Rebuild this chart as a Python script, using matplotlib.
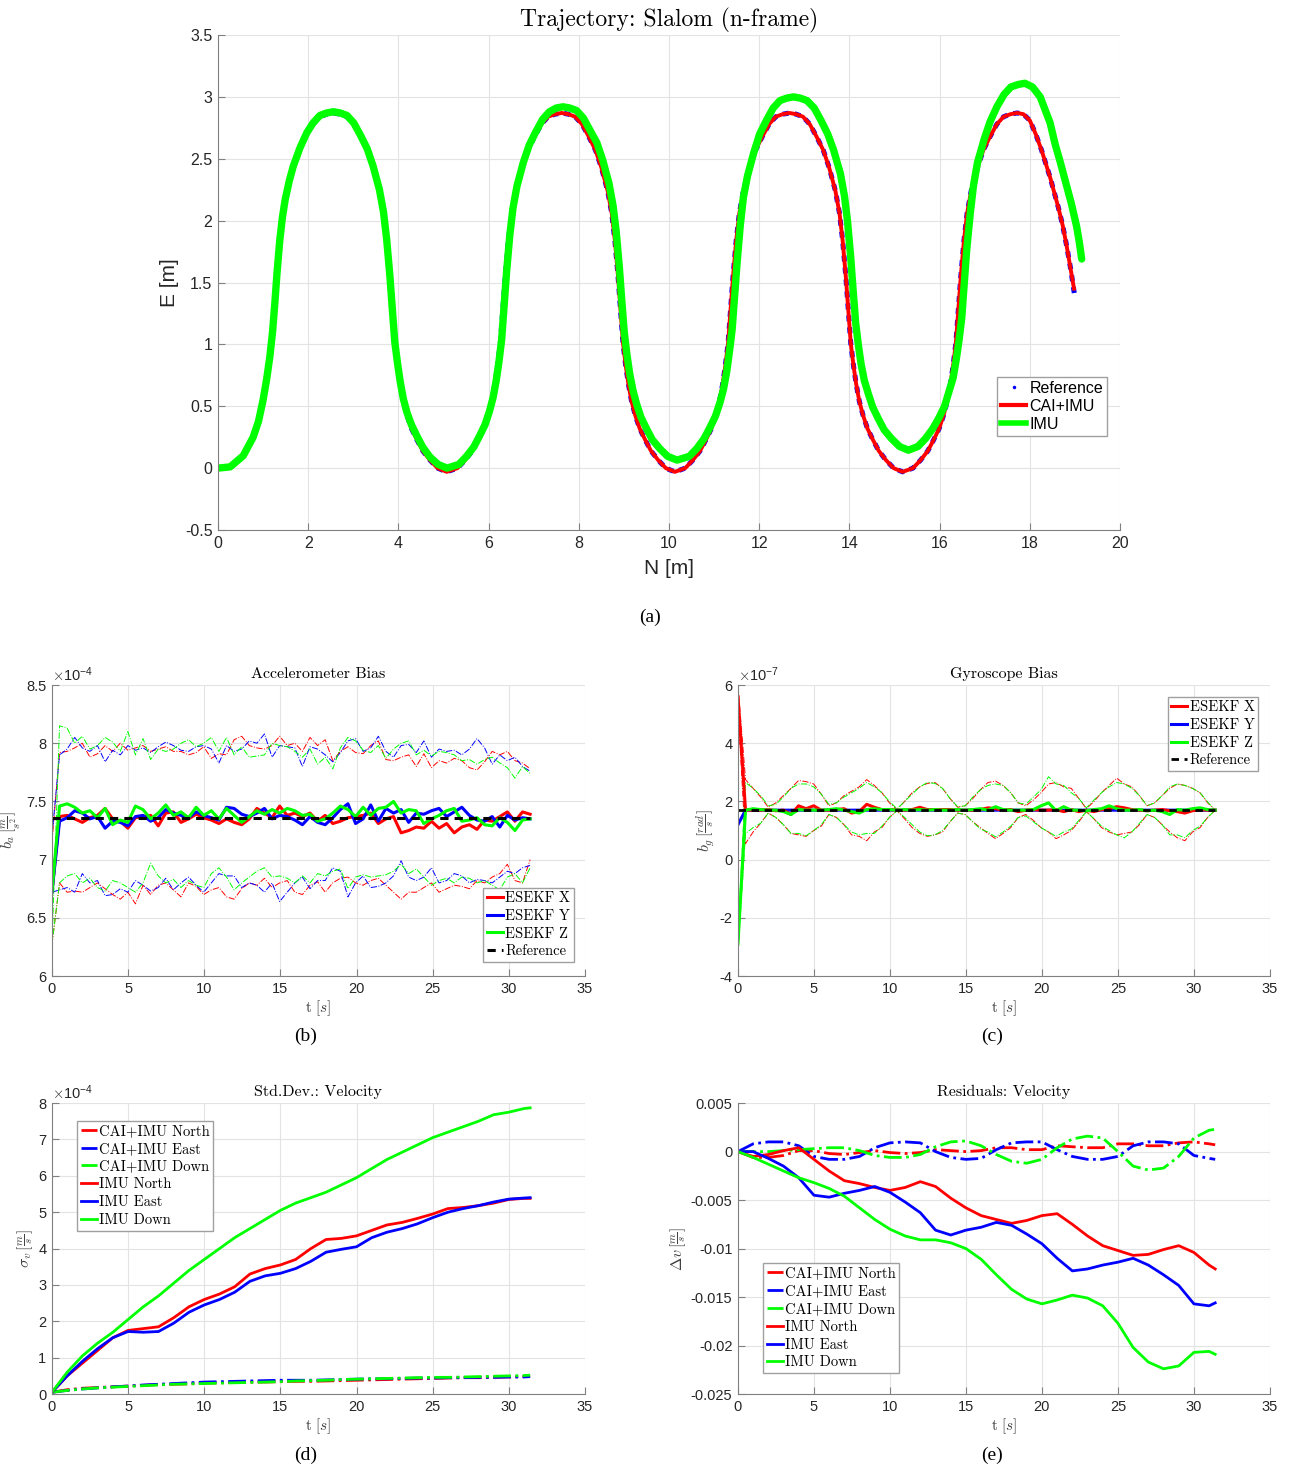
import matplotlib
matplotlib.use("Agg")
import matplotlib.pyplot as plt
import numpy as np
from matplotlib.lines import Line2D
from matplotlib.ticker import FuncFormatter

plt.rcParams['font.family'] = 'Liberation Sans'
plt.rcParams['mathtext.fontset'] = 'cm'

# ---------------- (a) trajectory ----------------
# the reference slalom repeats the same half-arc shape, so its E values are read once per side
ref_desc_E = [2.86, 2.84, 2.78, 2.68, 2.57, 2.43, 2.24, 2.06, 1.84, 1.55, 1.30, 1.01, 0.83, 0.68,
              0.54, 0.43, 0.32, 0.23, 0.14, 0.065, 0.0, -0.03]
ref_rise_E = [0.0, 0.065, 0.14, 0.23, 0.32, 0.43, 0.54, 0.68, 0.83, 1.01, 1.30, 1.55, 1.84, 2.06,
              2.24, 2.43, 2.57, 2.68, 2.78, 2.84, 2.86, 2.87]
ref_N = [0, 0.27, 0.56, 0.78, 0.90, 1.00, 1.08, 1.15, 1.21, 1.26, 1.31, 1.37, 1.43, 1.49, 1.58, 1.67, 1.82, 1.97, 2.11, 2.26, 2.41, 2.56,
         2.71, 2.86, 3.01, 3.16, 3.31, 3.44, 3.58, 3.67, 3.74, 3.81, 3.86, 3.92, 3.98, 4.04, 4.11, 4.19, 4.29, 4.41, 4.54, 4.70, 4.87, 5.07,
         5.31, 5.48, 5.64, 5.77, 5.89, 5.99, 6.07, 6.14, 6.20, 6.26, 6.32, 6.37, 6.44, 6.51, 6.60, 6.74, 6.87, 7.02, 7.17, 7.32, 7.47, 7.62,
         7.77, 7.92, 8.07, 8.22, 8.37, 8.50, 8.64, 8.73, 8.80, 8.87, 8.92, 8.98, 9.04, 9.10, 9.17, 9.25, 9.35, 9.47, 9.60, 9.76, 9.93, 10.13,
         10.36, 10.53, 10.69, 10.82, 10.94, 11.04, 11.12, 11.19, 11.25, 11.31, 11.37, 11.42, 11.49, 11.56, 11.65, 11.79, 11.92, 12.07, 12.22, 12.37, 12.52, 12.67,
         12.82, 12.97, 13.12, 13.27, 13.42, 13.55, 13.69, 13.78, 13.85, 13.92, 13.97, 14.03, 14.09, 14.15, 14.22, 14.30, 14.40, 14.52, 14.65, 14.81, 14.98, 15.18,
         15.41, 15.58, 15.74, 15.87, 15.99, 16.09, 16.17, 16.24, 16.30, 16.36, 16.42, 16.47, 16.54, 16.61, 16.70, 16.84, 16.97, 17.12, 17.27, 17.42, 17.57, 17.72,
         17.86, 18.00, 18.13, 18.26, 18.45, 18.63, 18.73, 18.82, 18.91, 19.00]
ref_E = ([0, 0.01, 0.10, 0.25, 0.38, 0.55, 0.72, 0.90, 1.10, 1.33, 1.58, 1.84, 2.03, 2.17, 2.32, 2.43, 2.58, 2.70, 2.78, 2.84, 2.86, 2.87]
         + ref_desc_E + ref_rise_E + ref_desc_E + ref_rise_E + ref_desc_E + ref_rise_E
         + [2.86, 2.81, 2.70, 2.57, 2.35, 2.11, 1.96, 1.79, 1.60, 1.38])
cai_N = ref_N[:-1] + [18.98]
cai_E = ref_E[:-1] + [1.45]
imu_N = [0, 0.27, 0.56, 0.78, 0.90, 1.00, 1.08, 1.15, 1.21, 1.26, 1.31, 1.37, 1.43, 1.49, 1.58, 1.67, 1.82, 1.97, 2.11, 2.26, 2.41, 2.56,
         2.71, 2.86, 3.01, 3.16, 3.31, 3.44, 3.58, 3.67, 3.74, 3.81, 3.86, 3.92, 3.98, 4.04, 4.11, 4.19, 4.29, 4.41, 4.54, 4.70, 4.88, 5.08,
         5.34, 5.51, 5.67, 5.80, 5.92, 6.02, 6.10, 6.17, 6.23, 6.29, 6.35, 6.40, 6.47, 6.54, 6.63, 6.77, 6.90, 7.05, 7.20, 7.35, 7.50, 7.65,
         7.80, 7.95, 8.10, 8.25, 8.40, 8.53, 8.67, 8.76, 8.83, 8.90, 8.95, 9.01, 9.07, 9.13, 9.20, 9.28, 9.38, 9.50, 9.63, 9.79, 9.97, 10.18,
         10.45, 10.62, 10.78, 10.91, 11.03, 11.13, 11.21, 11.28, 11.34, 11.40, 11.46, 11.51, 11.58, 11.65, 11.74, 11.88, 12.01, 12.16, 12.31, 12.46, 12.61, 12.76,
         12.91, 13.06, 13.22, 13.37, 13.52, 13.65, 13.80, 13.89, 13.96, 14.03, 14.08, 14.14, 14.20, 14.26, 14.33, 14.42, 14.52, 14.64, 14.77, 14.93, 15.11, 15.31,
         15.52, 15.69, 15.85, 15.99, 16.11, 16.21, 16.30, 16.37, 16.43, 16.49, 16.55, 16.60, 16.68, 16.75, 16.84, 16.99, 17.12, 17.27, 17.43, 17.58, 17.74, 17.89,
         18.06, 18.23, 18.45, 18.56, 18.67, 18.78, 18.92, 19.04, 19.10, 19.15]
imu_E = [0, 0.01, 0.10, 0.25, 0.38, 0.55, 0.72, 0.90, 1.10, 1.33, 1.58, 1.84, 2.03, 2.17, 2.32, 2.44, 2.59, 2.71, 2.79, 2.85, 2.87, 2.88,
         2.87, 2.85, 2.79, 2.69, 2.58, 2.44, 2.25, 2.07, 1.85, 1.56, 1.31, 1.02, 0.85, 0.70, 0.56, 0.45, 0.35, 0.26, 0.17, 0.09, 0.03, 0.0,
         0.03, 0.095, 0.17, 0.26, 0.35, 0.46, 0.57, 0.71, 0.86, 1.04, 1.34, 1.59, 1.88, 2.10, 2.28, 2.47, 2.61, 2.72, 2.82, 2.88, 2.91, 2.92,
         2.91, 2.89, 2.83, 2.73, 2.63, 2.49, 2.30, 2.12, 1.91, 1.62, 1.37, 1.09, 0.91, 0.76, 0.63, 0.52, 0.41, 0.32, 0.23, 0.16, 0.095, 0.065,
         0.095, 0.16, 0.24, 0.33, 0.42, 0.53, 0.64, 0.78, 0.94, 1.12, 1.42, 1.66, 1.96, 2.19, 2.36, 2.55, 2.70, 2.81, 2.91, 2.97, 2.99, 3.00,
         2.99, 2.97, 2.91, 2.81, 2.70, 2.57, 2.38, 2.20, 1.99, 1.70, 1.45, 1.17, 0.99, 0.84, 0.71, 0.60, 0.49, 0.40, 0.31, 0.24, 0.175, 0.145,
         0.175, 0.24, 0.32, 0.41, 0.50, 0.62, 0.73, 0.88, 1.03, 1.21, 1.51, 1.76, 2.06, 2.28, 2.47, 2.66, 2.80, 2.92, 3.02, 3.08, 3.10, 3.11,
         3.08, 3.00, 2.79, 2.62, 2.48, 2.33, 2.14, 1.95, 1.82, 1.69]

# ---------------- (b) accelerometer bias [1e-4 m/s^2], one sample every 0.5 s ----------------
acc_x = [6.72, 7.37, 7.38, 7.35, 7.32, 7.36, 7.38, 7.44, 7.35, 7.33, 7.27, 7.36, 7.37, 7.38, 7.29, 7.40,
         7.41, 7.32, 7.35, 7.39, 7.36, 7.34, 7.31, 7.35, 7.32, 7.30, 7.35, 7.44, 7.40, 7.36, 7.46, 7.38,
         7.40, 7.37, 7.40, 7.33, 7.38, 7.31, 7.33, 7.36, 7.37, 7.38, 7.40, 7.31, 7.35, 7.37, 7.23, 7.25,
         7.28, 7.27, 7.33, 7.27, 7.31, 7.23, 7.28, 7.30, 7.26, 7.34, 7.33, 7.37, 7.41, 7.33, 7.41, 7.39]
acc_y = [6.72, 7.33, 7.36, 7.42, 7.40, 7.35, 7.37, 7.27, 7.33, 7.32, 7.29, 7.37, 7.38, 7.33, 7.36, 7.43,
         7.40, 7.38, 7.36, 7.41, 7.38, 7.36, 7.34, 7.45, 7.44, 7.39, 7.37, 7.40, 7.44, 7.35, 7.38, 7.37,
         7.34, 7.30, 7.37, 7.32, 7.30, 7.36, 7.43, 7.48, 7.31, 7.35, 7.47, 7.33, 7.44, 7.40, 7.43, 7.32,
         7.40, 7.39, 7.42, 7.44, 7.37, 7.41, 7.45, 7.38, 7.34, 7.33, 7.37, 7.28, 7.38, 7.34, 7.36, 7.35]
acc_z = [6.72, 7.46, 7.48, 7.45, 7.40, 7.42, 7.36, 7.44, 7.30, 7.34, 7.32, 7.46, 7.43, 7.35, 7.40, 7.47,
         7.38, 7.41, 7.36, 7.45, 7.38, 7.42, 7.35, 7.44, 7.38, 7.32, 7.37, 7.42, 7.39, 7.43, 7.40, 7.44,
         7.42, 7.38, 7.39, 7.33, 7.35, 7.40, 7.46, 7.43, 7.37, 7.45, 7.38, 7.44, 7.45, 7.50, 7.40, 7.43,
         7.42, 7.31, 7.35, 7.38, 7.42, 7.44, 7.33, 7.34, 7.36, 7.30, 7.29, 7.36, 7.32, 7.25, 7.34, 7.35]
acc_x_hi = [7.15, 7.92, 7.93, 7.96, 8.00, 7.88, 7.91, 7.98, 7.93, 8.00, 7.94, 7.96, 7.98, 7.93, 7.95, 7.97,
            7.93, 7.93, 7.90, 7.92, 7.97, 7.87, 7.91, 7.90, 8.03, 8.06, 7.98, 7.96, 7.95, 7.98, 8.06, 7.98,
            8.00, 7.93, 8.05, 7.98, 8.03, 7.85, 7.93, 7.97, 7.92, 7.91, 7.98, 8.02, 7.86, 7.85, 7.88, 7.90,
            7.80, 7.91, 7.79, 7.85, 7.83, 7.87, 7.85, 7.79, 7.77, 7.84, 7.93, 7.90, 7.93, 7.85, 7.83, 7.78]
acc_y_hi = [7.20, 7.90, 7.95, 8.05, 7.96, 7.93, 7.98, 7.84, 7.94, 7.90, 7.98, 7.94, 7.96, 7.92, 7.97, 8.01,
            7.98, 7.94, 7.93, 7.97, 7.98, 7.95, 7.83, 7.98, 7.93, 7.95, 8.02, 8.00, 8.08, 7.88, 7.98, 7.97,
            7.96, 7.80, 7.97, 7.95, 7.90, 7.84, 7.92, 8.02, 8.04, 7.93, 7.96, 8.06, 7.93, 7.88, 7.98, 7.99,
            7.92, 8.02, 7.88, 7.95, 7.93, 7.94, 7.90, 7.95, 8.04, 7.96, 7.82, 7.90, 7.85, 7.88, 7.80, 7.76]
acc_z_hi = [6.27, 8.15, 8.13, 8.00, 8.06, 7.95, 7.98, 8.05, 8.01, 7.93, 8.10, 7.90, 8.04, 7.86, 7.95, 7.93,
            7.95, 8.00, 8.03, 7.97, 8.00, 8.05, 7.93, 8.05, 7.90, 7.97, 7.88, 7.89, 7.90, 8.00, 7.98, 7.97,
            7.93, 7.88, 7.95, 7.82, 7.88, 7.78, 7.96, 8.05, 8.02, 7.94, 7.92, 7.98, 7.87, 7.95, 8.00, 8.02,
            7.90, 7.94, 7.89, 7.93, 7.92, 7.90, 7.85, 7.86, 7.82, 7.86, 7.88, 7.83, 7.79, 7.70, 7.80, 7.74]
acc_x_lo = [6.27, 6.80, 6.72, 6.73, 6.72, 6.76, 6.80, 6.75, 6.70, 6.66, 6.72, 6.62, 6.78, 6.70, 6.78, 6.80,
            6.74, 6.68, 6.80, 6.77, 6.70, 6.74, 6.76, 6.68, 6.66, 6.75, 6.80, 6.78, 6.84, 6.76, 6.80, 6.82,
            6.72, 6.70, 6.78, 6.81, 6.72, 6.80, 6.84, 6.85, 6.80, 6.78, 6.82, 6.84, 6.78, 6.72, 6.66, 6.72,
            6.72, 6.76, 6.80, 6.72, 6.75, 6.78, 6.77, 6.75, 6.82, 6.80, 6.85, 6.88, 6.96, 6.82, 6.80, 7.00]
acc_y_lo = [6.72, 6.74, 6.76, 6.72, 6.88, 6.80, 6.82, 6.69, 6.70, 6.75, 6.72, 6.82, 6.78, 6.73, 6.76, 6.84,
            6.74, 6.80, 6.85, 6.78, 6.72, 6.80, 6.88, 6.86, 6.86, 6.76, 6.80, 6.78, 6.72, 6.80, 6.64, 6.72,
            6.80, 6.85, 6.75, 6.82, 6.82, 6.93, 6.90, 6.68, 6.80, 6.86, 6.76, 6.77, 6.80, 6.86, 6.99, 6.85,
            6.82, 6.85, 6.93, 6.80, 6.82, 6.88, 6.86, 6.80, 6.83, 6.82, 6.80, 6.85, 6.90, 6.88, 6.93, 6.95]
acc_z_lo = [6.27, 6.80, 6.86, 6.88, 6.80, 6.84, 6.76, 6.73, 6.82, 6.80, 6.76, 6.72, 6.80, 6.97, 6.86, 6.80,
            6.83, 6.76, 6.82, 6.78, 6.76, 6.88, 6.93, 6.85, 6.74, 6.80, 6.85, 6.90, 6.93, 6.85, 6.86, 6.84,
            6.80, 6.86, 6.80, 6.88, 6.86, 6.90, 6.92, 6.75, 6.85, 6.87, 6.85, 6.86, 6.87, 6.90, 6.96, 6.88,
            6.92, 6.85, 6.78, 6.82, 6.84, 6.80, 6.85, 6.84, 6.80, 6.82, 6.78, 6.74, 6.85, 6.88, 6.80, 6.93]
acc_ref = [7.36, 7.36]

# ---------------- (c) gyroscope bias [1e-7 rad/s], one sample every 0.5 s ----------------
gyr_x = [5.6, 1.70, 1.70, 1.70, 1.72, 1.68, 1.70, 1.55, 1.85, 1.75, 1.85, 1.70, 1.70, 1.72, 1.75, 1.60,
         1.65, 1.90, 1.80, 1.72, 1.72, 1.70, 1.70, 1.72, 1.80, 1.72, 1.72, 1.72, 1.72, 1.70, 1.70, 1.70,
         1.72, 1.78, 1.75, 1.70, 1.72, 1.65, 1.70, 1.72, 1.70, 1.70, 1.72, 1.65, 1.72, 1.65, 1.70, 1.65,
         1.72, 1.75, 1.82, 1.78, 1.72, 1.70, 1.68, 1.70, 1.72, 1.68, 1.65, 1.60, 1.68, 1.72, 1.70, 1.70]
gyr_y = [1.2, 1.70, 1.70, 1.70, 1.70, 1.70, 1.70, 1.70, 1.70, 1.70, 1.70, 1.70, 1.70, 1.70, 1.70, 1.70,
         1.70, 1.70, 1.70, 1.70, 1.70, 1.70, 1.70, 1.70, 1.70, 1.70, 1.70, 1.70, 1.70, 1.70, 1.70, 1.70,
         1.70, 1.70, 1.70, 1.70, 1.70, 1.70, 1.70, 1.70, 1.70, 1.70, 1.70, 1.70, 1.70, 1.70, 1.70, 1.70,
         1.70, 1.70, 1.70, 1.70, 1.70, 1.70, 1.70, 1.70, 1.70, 1.70, 1.70, 1.70, 1.70, 1.70, 1.70, 1.70]
gyr_z = [-2.9, 1.70, 1.75, 1.72, 1.70, 1.70, 1.65, 1.55, 1.72, 1.70, 1.70, 1.70, 1.72, 1.75, 1.70, 1.65,
         1.60, 1.72, 1.75, 1.72, 1.72, 1.70, 1.72, 1.70, 1.72, 1.70, 1.72, 1.70, 1.70, 1.72, 1.70, 1.72,
         1.75, 1.70, 1.82, 1.72, 1.70, 1.70, 1.70, 1.72, 1.85, 1.95, 1.68, 1.82, 1.70, 1.70, 1.68, 1.72,
         1.75, 1.85, 1.75, 1.70, 1.70, 1.72, 1.68, 1.70, 1.65, 1.55, 1.72, 1.70, 1.75, 1.78, 1.72, 1.70]
gyr_x_hi = [6.0, 2.75, 2.45, 2.15, 1.80, 1.95, 2.20, 2.45, 2.72, 2.68, 2.60, 2.25, 1.85, 1.95, 2.20, 2.35,
            2.50, 2.75, 2.55, 2.30, 1.95, 1.72, 2.00, 2.30, 2.50, 2.62, 2.65, 2.45, 2.10, 1.80, 1.85, 2.10,
            2.40, 2.65, 2.70, 2.55, 2.30, 1.95, 1.85, 2.05, 2.30, 2.60, 2.65, 2.50, 2.45, 2.10, 1.75, 2.00,
            2.30, 2.55, 2.80, 2.60, 2.50, 2.20, 1.85, 1.95, 2.20, 2.45, 2.60, 2.55, 2.45, 2.30, 1.95, 1.70]
gyr_x_lo = [5.2, 0.55, 0.95, 1.25, 1.60, 1.45, 1.20, 0.90, 0.85, 0.80, 1.00, 1.15, 1.55, 1.45, 1.20, 0.85,
            0.80, 0.65, 0.95, 1.10, 1.45, 1.68, 1.40, 1.10, 0.90, 0.80, 0.85, 0.95, 1.30, 1.60, 1.55, 1.30,
            1.10, 0.90, 0.72, 0.90, 1.10, 1.45, 1.55, 1.35, 1.10, 0.95, 0.72, 0.85, 1.00, 1.30, 1.65, 1.40,
            1.10, 0.95, 0.85, 0.90, 0.95, 1.20, 1.55, 1.45, 1.20, 0.95, 0.75, 0.65, 0.95, 1.10, 1.45, 1.70]
gyr_z_hi = [-2.6, 2.65, 2.45, 2.20, 1.85, 1.90, 2.15, 2.45, 2.60, 2.60, 2.50, 2.25, 1.90, 1.95, 2.15, 2.30,
            2.45, 2.65, 2.50, 2.30, 2.00, 1.75, 2.00, 2.25, 2.50, 2.65, 2.62, 2.45, 2.10, 1.82, 1.85, 2.15,
            2.40, 2.55, 2.60, 2.55, 2.30, 1.95, 1.90, 2.15, 2.40, 2.85, 2.60, 2.55, 2.30, 2.10, 1.78, 2.05,
            2.30, 2.50, 2.65, 2.60, 2.45, 2.20, 1.85, 1.95, 2.20, 2.50, 2.60, 2.55, 2.45, 2.30, 1.98, 1.70]
gyr_z_lo = [-3.2, 0.90, 1.10, 1.25, 1.60, 1.45, 1.20, 0.90, 0.90, 0.82, 1.00, 1.20, 1.55, 1.45, 1.20, 0.95,
            0.85, 0.90, 0.90, 1.15, 1.45, 1.68, 1.45, 1.20, 0.95, 0.82, 0.85, 1.00, 1.30, 1.60, 1.55, 1.30,
            1.05, 0.95, 0.78, 0.95, 1.15, 1.45, 1.50, 1.30, 1.10, 0.95, 0.80, 0.95, 1.05, 1.35, 1.65, 1.40,
            1.15, 1.00, 0.85, 0.75, 0.95, 1.25, 1.55, 1.45, 1.20, 0.85, 0.85, 0.75, 1.00, 1.15, 1.45, 1.70]
gyr_ref = [1.70, 1.70]

# ---------------- (d) std dev velocity [1e-4 m/s], t = 0..31 s and 31.4 s ----------------
t_v = [0, 1, 2, 3, 4, 5, 6, 7, 8, 9, 10, 11, 12, 13, 14, 15, 16, 17, 18, 19, 20,
       21, 22, 23, 24, 25, 26, 27, 28, 29, 30, 31, 31.4]
sd_cai_n = [0.05, 0.12, 0.16, 0.18, 0.20, 0.22, 0.24, 0.26, 0.27, 0.28, 0.30, 0.31, 0.32, 0.33, 0.33, 0.34,
            0.35, 0.35, 0.36, 0.37, 0.38, 0.39, 0.40, 0.41, 0.42, 0.43, 0.44, 0.45, 0.45, 0.46, 0.47, 0.48, 0.49]
sd_cai_e = [0.05, 0.10, 0.14, 0.17, 0.20, 0.22, 0.25, 0.27, 0.29, 0.31, 0.33, 0.34, 0.35, 0.36, 0.37, 0.38,
            0.38, 0.38, 0.39, 0.40, 0.41, 0.42, 0.42, 0.43, 0.44, 0.44, 0.45, 0.45, 0.46, 0.46, 0.47, 0.47, 0.48]
sd_cai_d = [0.05, 0.10, 0.14, 0.17, 0.19, 0.21, 0.23, 0.25, 0.27, 0.28, 0.29, 0.30, 0.31, 0.32, 0.33, 0.34,
            0.36, 0.37, 0.38, 0.40, 0.41, 0.42, 0.43, 0.44, 0.45, 0.46, 0.46, 0.47, 0.48, 0.49, 0.50, 0.51, 0.52]
sd_imu_n = [0.05, 0.50, 0.85, 1.20, 1.55, 1.75, 1.80, 1.85, 2.10, 2.40, 2.60, 2.75, 2.95, 3.30, 3.45, 3.55,
            3.70, 4.00, 4.25, 4.28, 4.35, 4.50, 4.65, 4.72, 4.83, 4.95, 5.10, 5.13, 5.18, 5.25, 5.35, 5.38, 5.38]
sd_imu_e = [0.05, 0.50, 0.90, 1.25, 1.55, 1.72, 1.70, 1.72, 1.95, 2.25, 2.45, 2.60, 2.80, 3.10, 3.25, 3.32,
            3.45, 3.65, 3.90, 3.98, 4.05, 4.30, 4.45, 4.55, 4.68, 4.85, 5.00, 5.10, 5.18, 5.28, 5.36, 5.39, 5.40]
sd_imu_d = [0.05, 0.60, 1.05, 1.40, 1.70, 2.05, 2.40, 2.70, 3.05, 3.40, 3.70, 4.00, 4.30, 4.55, 4.80, 5.05,
            5.25, 5.40, 5.55, 5.75, 5.95, 6.20, 6.45, 6.65, 6.85, 7.05, 7.20, 7.35, 7.50, 7.68, 7.75, 7.85, 7.87]

# ---------------- (e) velocity residuals [m/s] ----------------
res_cai_n = [0, -0.0006, -0.0006, -0.0004, 0.0001, 0.0001, -0.0002, -0.0003, -0.0001, 0.0001, -0.0001,
             -0.0002, -0.0001, 0.0002, 0.0001, 0.0, 0.0001, 0.0004, 0.0004, 0.0002, 0.0002, 0.0006,
             0.0005, 0.0004, 0.0004, 0.0008, 0.0008, 0.0006, 0.0006, 0.0009, 0.0010, 0.0008, 0.0007]
res_cai_e = [0, 0.0008, 0.0010, 0.0010, 0.0006, -0.0005, -0.0008, -0.0008, -0.0005, 0.0004, 0.0009,
             0.0010, 0.0009, 0.0, -0.0006, -0.0008, -0.0007, 0.0002, 0.0009, 0.0010, 0.0010, 0.0002,
             -0.0005, -0.0008, -0.0008, -0.0005, 0.0006, 0.0010, 0.0010, 0.0008, -0.0004, -0.0007, -0.0008]
res_cai_d = [0, 0.0, 0.0, 0.0001, 0.0002, 0.0003, 0.0004, 0.0004, 0.0001, -0.0004, -0.0006,
             -0.0006, -0.0003, 0.0005, 0.0010, 0.0011, 0.0006, -0.0003, -0.0010, -0.0012, -0.0008, 0.0004,
             0.0013, 0.0016, 0.0014, 0.0, -0.0015, -0.0019, -0.0017, -0.0005, 0.0014, 0.0022, 0.0023]
res_imu_n = [0, -0.0005, -0.0003, 0.0001, 0.0004, -0.0008, -0.0020, -0.0030, -0.0033, -0.0037, -0.0040,
             -0.0037, -0.0031, -0.0036, -0.0048, -0.0058, -0.0066, -0.0070, -0.0074, -0.0071, -0.0066, -0.0064,
             -0.0075, -0.0087, -0.0097, -0.0102, -0.0107, -0.0106, -0.0101, -0.0097, -0.0104, -0.0117, -0.0121]
res_imu_e = [0, 0.0, -0.0007, -0.0015, -0.0027, -0.0045, -0.0047, -0.0043, -0.0040, -0.0036, -0.0042,
             -0.0052, -0.0063, -0.0081, -0.0086, -0.0081, -0.0078, -0.0073, -0.0076, -0.0085, -0.0095, -0.0110,
             -0.0123, -0.0121, -0.0117, -0.0114, -0.0110, -0.0117, -0.0127, -0.0138, -0.0157, -0.0159, -0.0156]
res_imu_d = [0, -0.0006, -0.0013, -0.0020, -0.0027, -0.0032, -0.0038, -0.0046, -0.0058, -0.0070, -0.0080,
             -0.0087, -0.0091, -0.0091, -0.0094, -0.0100, -0.0111, -0.0127, -0.0142, -0.0152, -0.0157, -0.0153,
             -0.0148, -0.0151, -0.0159, -0.0177, -0.0202, -0.0217, -0.0224, -0.0221, -0.0207, -0.0206, -0.0209]

RED, BLUE, GREEN = '#ff0000', '#0000ff', '#00ff00'
SPINE = '#808080'
GRID = '#e3e3e3'
fmt_g = FuncFormatter(lambda v, p: '%g' % round(v, 6))


def style(ax, xlim, xticks, ylim, yticks, size):
    ax.set_xlim(*xlim)
    ax.set_ylim(*ylim)
    ax.set_xticks(xticks)
    ax.set_yticks(yticks)
    ax.xaxis.set_major_formatter(fmt_g)
    ax.yaxis.set_major_formatter(fmt_g)
    for s in ['top', 'right']:
        ax.spines[s].set_visible(False)
    for s in ['left', 'bottom']:
        ax.spines[s].set_color(SPINE)
        ax.spines[s].set_linewidth(0.8)
    ax.tick_params(direction='in', length=5, width=0.8, color=SPINE,
                   labelsize=size, labelcolor='#262626', pad=4)
    ax.grid(True, color=GRID, lw=0.8)
    ax.set_axisbelow(True)


fig = plt.figure(figsize=(12.89, 14.71), dpi=100)

# ---- (a)
ax = fig.add_axes([0.1691, 0.6397, 0.6998, 0.3365])
ax.plot(ref_N, ref_E, color=BLUE, lw=3.6, ls=(0, (1.2, 1.2)), solid_joinstyle='round')
ax.plot(cai_N, cai_E, color=RED, lw=2.8, solid_joinstyle='round')
ax.plot(imu_N, imu_E, color=GREEN, lw=5.3, solid_capstyle='round', solid_joinstyle='round')
style(ax, (0, 20), np.arange(0, 21, 2), (-0.5, 3.5), np.arange(-0.5, 3.51, 0.5), 11.5)
ax.set_xlabel('N [m]', fontsize=15, color='#262626', labelpad=6)
ax.set_ylabel('E [m]', fontsize=15, color='#262626', labelpad=4)
ax.set_title('Trajectory: Slalom (n-frame)', family='cmr10', fontsize=17, pad=6)
handles = [Line2D([], [], color=BLUE, marker='.', ls='none', markersize=3),
           Line2D([], [], color=RED, lw=3),
           Line2D([], [], color=GREEN, lw=4)]
ax.legend(handles, ['Reference', 'CAI+IMU', 'IMU'], loc='upper right',
          bbox_to_anchor=(0.986, 0.31), fontsize=11.5, fancybox=False, framealpha=1,
          edgecolor='#a0a0a0', handlelength=1.6, handletextpad=0.2, labelspacing=0.2,
          borderpad=0.25, borderaxespad=0)
fig.text(0.504, 1 - 617 / 1471, '(a)', family='Liberation Serif', fontsize=14,
         ha='center', va='center')

leg_kw = dict(prop={'family': 'cmr10', 'size': 10.5}, fancybox=False, framealpha=1,
              edgecolor='#a0a0a0', handlelength=1.1, handletextpad=0.15, labelspacing=0.28,
              borderpad=0.25, borderaxespad=0)
xlab = r'$\mathrm{t}\ [s]$'

caption_label = {'Accelerometer Bias': '(b)', 'Gyroscope Bias': '(c)',
                 'Std.Dev.: Velocity': '(d)', 'Residuals: Velocity': '(e)'}


def lower(ax, title, ylabel, caption_x, caption_y):
    ax.set_title(title, family='cmr10', fontsize=11.5, pad=5)
    ax.set_xlabel(xlab, fontsize=11, color='#404040', labelpad=2)
    ax.set_ylabel(ylabel, fontsize=11.5, color='#404040', labelpad=2)
    fig.text(caption_x, caption_y, caption_label[title], family='Liberation Serif', fontsize=14,
             ha='center', va='center')


def offset(ax, exp):
    ax.text(0, 1.005, r'$\times\mathdefault{10^{%d}}$' % exp, transform=ax.transAxes,
            fontsize=10.5, color='#262626', va='bottom', ha='left')


# ---- (b)
ax = fig.add_axes([0.0403, 0.3365, 0.4135, 0.1978])
tb = np.linspace(0, 31.4, len(acc_x))
for hi, lo, c in [(acc_x_hi, acc_x_lo, RED), (acc_y_hi, acc_y_lo, BLUE), (acc_z_hi, acc_z_lo, GREEN)]:
    ax.plot(tb, hi, color=c, lw=0.7, ls='-.')
    ax.plot(tb, lo, color=c, lw=0.7, ls='-.')
lx, = ax.plot(tb, acc_x, color=RED, lw=2.2)
ly, = ax.plot(tb, acc_y, color=BLUE, lw=2.2)
lz, = ax.plot(tb, acc_z, color=GREEN, lw=2.2)
lr, = ax.plot([0, 31.4], acc_ref, color='black', lw=2.2, ls=(0, (2.7, 2.0)))
style(ax, (0, 35), np.arange(0, 36, 5), (6, 8.5), np.arange(6, 8.51, 0.5), 10.5)
offset(ax, -4)
ax.legend([lx, ly, lz, lr], ['ESEKF X', 'ESEKF Y', 'ESEKF Z', 'Reference'],
          loc='lower right', bbox_to_anchor=(0.979, 0.048), **leg_kw)
lower(ax, 'Accelerometer Bias', r'$b_a\,[\frac{m}{s^2}]$', 306 / 1289, 1 - 1036 / 1471)

# ---- (c)
ax = fig.add_axes([0.5725, 0.3365, 0.4127, 0.1978])
tc = np.linspace(0, 31.4, len(gyr_x))
for hi, lo, c in [(gyr_x_hi, gyr_x_lo, RED), (gyr_z_hi, gyr_z_lo, GREEN)]:
    ax.plot(tc, hi, color=c, lw=0.7, ls='-.')
    ax.plot(tc, lo, color=c, lw=0.7, ls='-.')
ly, = ax.plot(tc, gyr_y, color=BLUE, lw=2.2)
lx, = ax.plot(tc, gyr_x, color=RED, lw=2.2)
lz, = ax.plot(tc, gyr_z, color=GREEN, lw=2.2)
lr, = ax.plot([0, 31.4], gyr_ref, color='black', lw=2.0, ls=(0, (2.7, 2.0)))
style(ax, (0, 35), np.arange(0, 36, 5), (-4, 6), np.arange(-4, 6.1, 2), 10.5)
offset(ax, -7)
ax.legend([lx, ly, lz, lr], ['ESEKF X', 'ESEKF Y', 'ESEKF Z', 'Reference'],
          loc='upper right', bbox_to_anchor=(0.978, 0.96), **leg_kw)
lower(ax, 'Gyroscope Bias', r'$b_g\,[\frac{rad}{s}]$', 992 / 1289, 1 - 1036 / 1471)

# ---- (d)
ax = fig.add_axes([0.0403, 0.0523, 0.4135, 0.1978])
ax.plot(t_v, sd_cai_n, color=RED, lw=2, ls='-.', label='CAI+IMU North')
ax.plot(t_v, sd_cai_e, color=BLUE, lw=2, ls='-.', label='CAI+IMU East')
ax.plot(t_v, sd_cai_d, color=GREEN, lw=2, ls='-.', label='CAI+IMU Down')
ax.plot(t_v, sd_imu_n, color=RED, lw=2, label='IMU North')
ax.plot(t_v, sd_imu_e, color=BLUE, lw=2, label='IMU East')
ax.plot(t_v, sd_imu_d, color=GREEN, lw=2, label='IMU Down')
style(ax, (0, 35), np.arange(0, 36, 5), (0, 8), np.arange(0, 8.1, 1), 10.5)
offset(ax, -4)
ax.legend(loc='upper left', bbox_to_anchor=(0.047, 0.94), **leg_kw)
lower(ax, 'Std.Dev.: Velocity', r'$\sigma_v\,[\frac{m}{s}]$', 306 / 1289, 1 - 1455 / 1471)

# ---- (e)
ax = fig.add_axes([0.5725, 0.0523, 0.4127, 0.1978])
ax.plot(t_v, res_cai_n, color=RED, lw=2, ls='-.', label='CAI+IMU North')
ax.plot(t_v, res_cai_e, color=BLUE, lw=2, ls='-.', label='CAI+IMU East')
ax.plot(t_v, res_cai_d, color=GREEN, lw=2, ls='-.', label='CAI+IMU Down')
ax.plot(t_v, res_imu_n, color=RED, lw=2, label='IMU North')
ax.plot(t_v, res_imu_e, color=BLUE, lw=2, label='IMU East')
ax.plot(t_v, res_imu_d, color=GREEN, lw=2, label='IMU Down')
style(ax, (0, 35), np.arange(0, 36, 5), (-0.025, 0.005), np.arange(-0.025, 0.0051, 0.005), 10.5)
ax.legend(loc='lower left', bbox_to_anchor=(0.047, 0.072), **leg_kw)
lower(ax, 'Residuals: Velocity', r'$\Delta v\,[\frac{m}{s}]$', 992 / 1289, 1 - 1455 / 1471)

fig.savefig('out.png', dpi=100)
